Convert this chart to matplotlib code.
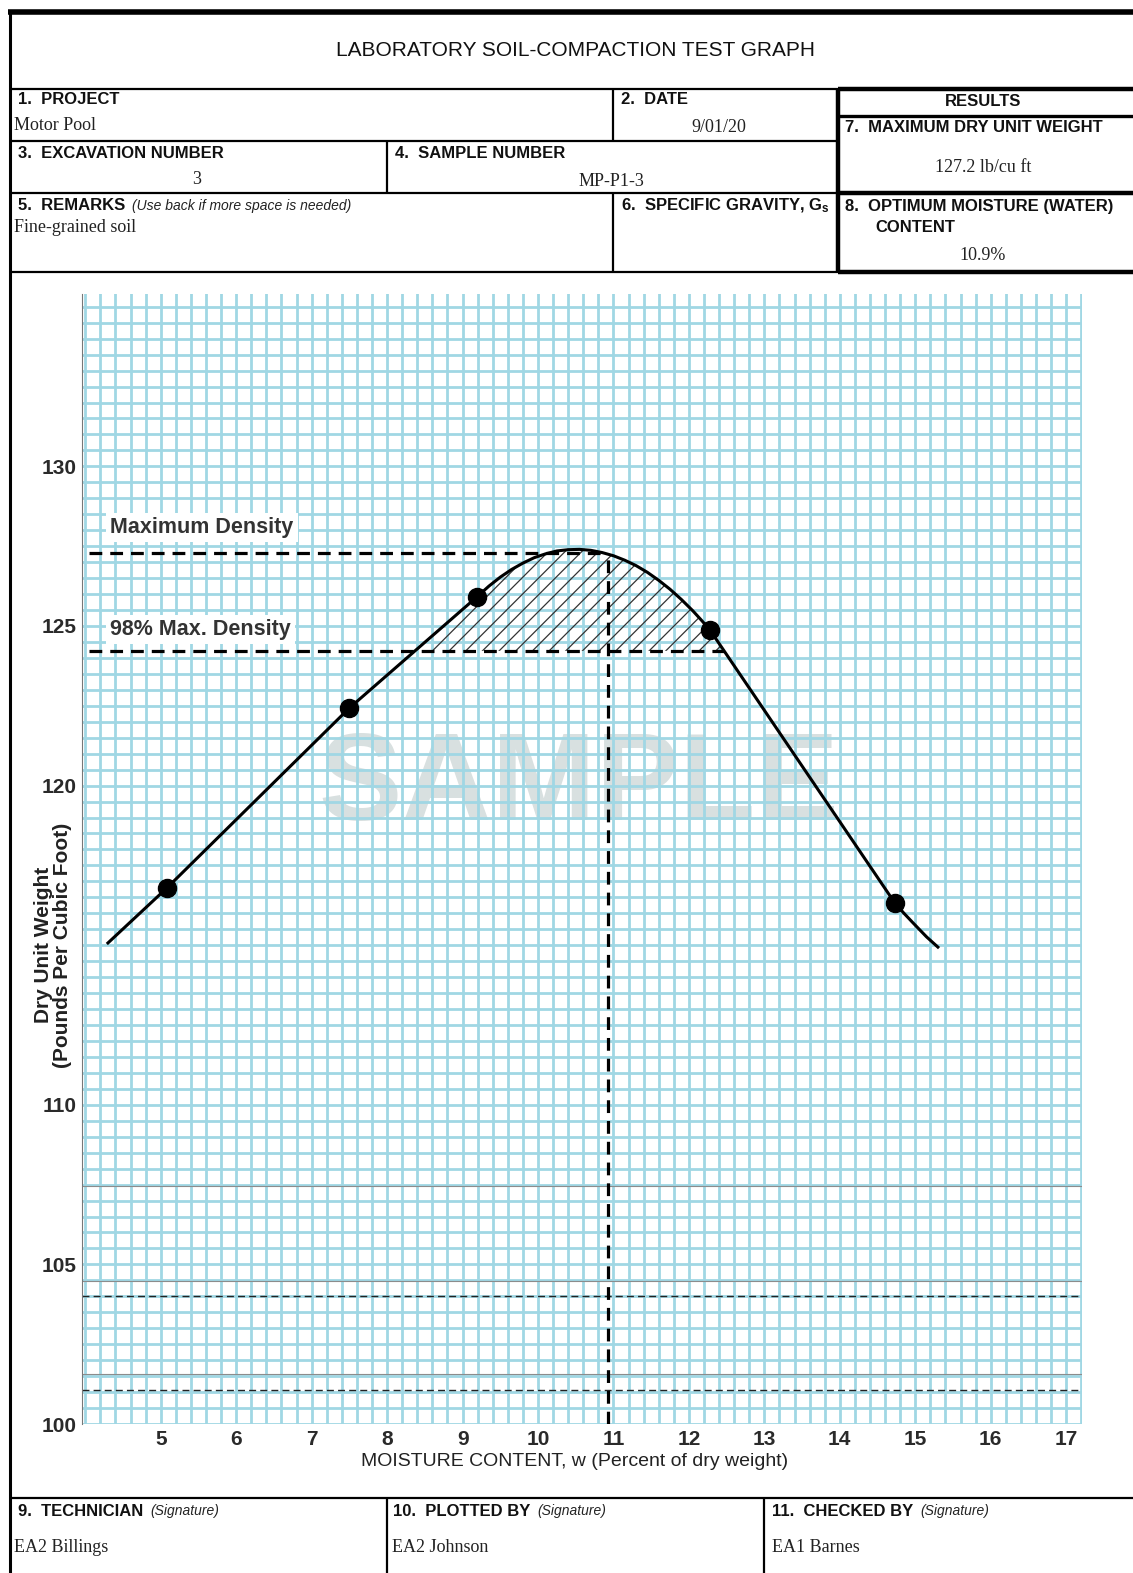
import numpy as np
import matplotlib.pyplot as plt
from matplotlib.ticker import MultipleLocator

# compaction curve traced off the form: moisture content (%) vs dry unit weight (pcf)
curve_w = [4.30, 5.08, 7.50, 9.19, 9.35, 9.50, 9.65, 9.80, 9.95, 10.10, 10.25, 10.40,
           10.55, 10.70, 10.85, 11.00, 11.15, 11.30, 11.45, 11.60, 11.75, 11.90, 12.05,
           12.17, 12.28, 14.73, 14.85, 14.97, 15.15, 15.30]
curve_d = [115.07, 116.79, 122.43, 125.91, 126.25, 126.53, 126.77, 126.97, 127.14, 127.26,
           127.35, 127.39, 127.40, 127.37, 127.30, 127.20, 127.06, 126.89, 126.68, 126.43,
           126.15, 125.83, 125.48, 125.17, 124.87, 116.32, 116.00, 115.70, 115.26, 114.94]

# the five test points
test_w = [5.08, 7.50, 9.19, 12.28, 14.73]
test_d = [116.79, 122.43, 125.91, 124.87, 116.32]

max_density = 127.3
density_98 = 124.22
optimum_w = 10.93

# faint reference lines printed near the bottom of the form
gray_lines = [107.46, 104.48, 101.57]
dashed_lines = [104.01, 101.07]

x_ticks = [5, 6, 7, 8, 9, 10, 11, 12, 13, 14, 15, 16, 17]
y_ticks = [100, 105, 110, 120, 125, 130]

NARROW = ['Liberation Sans Narrow', 'Liberation Sans']
SANS = ['Liberation Sans']
SERIF = ['Liberation Serif']

plt.rcParams['mathtext.default'] = 'regular'
plt.rcParams['hatch.linewidth'] = 0.9

W, H = 1133, 1573
fig = plt.figure(figsize=(W / 100, H / 100), dpi=100)

# form drawn in pixel coordinates
form = fig.add_axes([0, 0, 1, 1])
form.set_xlim(0, W)
form.set_ylim(H, 0)
form.axis('off')


def rule(x0, x1, y0, y1, lw=1.6):
    form.plot([x0, x1], [y0, y1], color='black', lw=lw, solid_capstyle='butt')


def label(x, y, s, **kw):
    opts = dict(fontsize=12, fontweight='bold', family=NARROW, va='center', color='#111111')
    opts.update(kw)
    return form.text(x, y, s, **opts)


def note(t, s, gap=5):
    # small italic remark right after a field label
    form.annotate(s, xy=(1, 0.5), xycoords=t, xytext=(gap, 0), textcoords='offset points',
                  fontsize=10, style='italic', family=NARROW, va='center', color='#222222')


def value(x, y, s, **kw):
    opts = dict(fontsize=13, family=SERIF, va='center', color='#222222')
    opts.update(kw)
    form.text(x, y, s, **opts)


# outer frame
rule(8, W, 12, 12, lw=4)
rule(10, 10, 10, H, lw=2.2)

# header rules
rule(10, W, 89, 89)
rule(10, 838, 141, 141)
rule(10, 838, 193, 193)
rule(10, W, 272, 272)
rule(613, 613, 89, 141)
rule(387, 387, 141, 193)
rule(613, 613, 193, 272)

# results box (heavier)
rule(838, W, 89, 89, lw=3.2)
rule(838, W, 116, 116, lw=2.4)
rule(838, W, 193, 193, lw=3.2)
rule(838, W, 272, 272, lw=3.2)
rule(838, 838, 88, 273, lw=3.2)

form.text(575, 50, 'LABORATORY SOIL-COMPACTION TEST GRAPH', fontsize=15, family=NARROW,
          ha='center', va='center', color='#111111')

label(18, 100, '1.  PROJECT')
value(14, 126, 'Motor Pool')
label(621, 100, '2.  DATE')
value(719, 127, '9/01/20', ha='center')
label(983, 102, 'RESULTS', ha='center')
label(845, 128, '7.  MAXIMUM DRY UNIT WEIGHT')
value(983, 168, '127.2 lb/cu ft', ha='center')
label(18, 153, '3.  EXCAVATION NUMBER')
value(197, 180, '3', ha='center')
label(395, 153, '4.  SAMPLE NUMBER')
value(611, 181, 'MP-P1-3', ha='center')
t = label(18, 206, '5.  REMARKS')
note(t, '(Use back if more space is needed)')
value(14, 228, 'Fine-grained soil')
label(621, 206, '6.  SPECIFIC GRAVITY, G$_s$')
label(845, 206, '8.  OPTIMUM MOISTURE (WATER)')
label(875, 228, 'CONTENT')
value(983, 256, '10.9%', ha='center')

# signature row
rule(10, W, 1498, 1498)
rule(387, 387, 1498, H)
rule(764, 764, 1498, H)
t = label(18, 1511, '9.  TECHNICIAN')
note(t, '(Signature)')
value(14, 1548, 'EA2 Billings')
t = label(393, 1511, '10.  PLOTTED BY')
note(t, '(Signature)')
value(392, 1548, 'EA2 Johnson')
t = label(772, 1511, '11.  CHECKED BY')
note(t, '(Signature)')
value(772, 1548, 'EA1 Barnes')

# axis titles
form.text(53, 945, 'Dry Unit Weight\n(Pounds Per Cubic Foot)', rotation=90, fontsize=15,
          fontweight='bold', family=SANS, ha='center', va='center', linespacing=1.0,
          multialignment='center', color='#222222')
form.text(575, 1461, 'MOISTURE CONTENT, w (Percent of dry weight)', fontsize=14,
          family=NARROW, ha='center', va='center', color='#222222')

# graph paper
ax = fig.add_axes([82.3 / W, (H - 1424) / H, 999.7 / W, 1130 / H])
ax.set_xlim(3.96, 17.21)
ax.set_ylim(100, 135.4)
ax.set_axisbelow(True)
ax.set_xticks(x_ticks)
ax.set_yticks(y_ticks)
ax.xaxis.set_minor_locator(MultipleLocator(0.2))
ax.yaxis.set_minor_locator(MultipleLocator(0.5))
ax.grid(which='both', color='#a0d7e4', lw=2.0)
ax.tick_params(which='both', length=0)
ax.tick_params(axis='x', pad=4)
ax.tick_params(axis='y', pad=4)
for tl in ax.get_xticklabels() + ax.get_yticklabels():
    tl.set_fontsize(15)
    tl.set_fontweight('bold')
    tl.set_family(SANS)
    tl.set_color('#2a2a2a')
for side in ['top', 'right', 'bottom']:
    ax.spines[side].set_visible(False)
ax.spines['left'].set_color('#777777')
ax.spines['left'].set_linewidth(0.8)

ax.text(0.497, 0.563, 'SAMPLE', transform=ax.transAxes, fontsize=90, fontweight='bold',
        family=SANS, color='#d8e0e0', ha='center', va='center', zorder=0.3)

for y in gray_lines:
    ax.axhline(y, color='#8c8c8c', lw=0.8, zorder=1.5)
for y in dashed_lines:
    ax.axhline(y, color='#222222', lw=1.0, ls=(0, (5, 3)), zorder=1.5)

cw = np.array(curve_w)
cd = np.array(curve_d)
ax.fill_between(cw, density_98, cd, where=cd >= density_98, interpolate=True,
                facecolor='none', edgecolor='#333333', hatch='//', lw=0, zorder=2)

# right-hand crossing of the 98 % line
desc = cw > optimum_w
w98_right = np.interp(density_98, cd[desc][::-1], cw[desc][::-1])

dash = (0, (4, 2.5))
ax.plot([4.05, optimum_w], [max_density, max_density], color='black', lw=2.3, ls=dash, zorder=3)
ax.plot([4.05, w98_right], [density_98, density_98], color='black', lw=2.3, ls=dash, zorder=3)
ax.plot([optimum_w, optimum_w], [100, max_density], color='black', lw=2.3, ls=dash, zorder=3)

box = dict(facecolor='white', edgecolor='none', pad=3)
ax.text(4.33, max_density + 0.78, 'Maximum Density', fontsize=15.5, fontweight='bold',
        family=SANS, color='#333333', va='center', bbox=box, zorder=3.5)
ax.text(4.33, density_98 + 0.68, '98% Max. Density', fontsize=15.5, fontweight='bold',
        family=SANS, color='#333333', va='center', bbox=box, zorder=3.5)

ax.plot(cw, cd, color='black', lw=2.2, zorder=4)
ax.plot(test_w, test_d, 'o', ms=13, color='black', zorder=5)

fig.savefig('out.png', dpi=100)
